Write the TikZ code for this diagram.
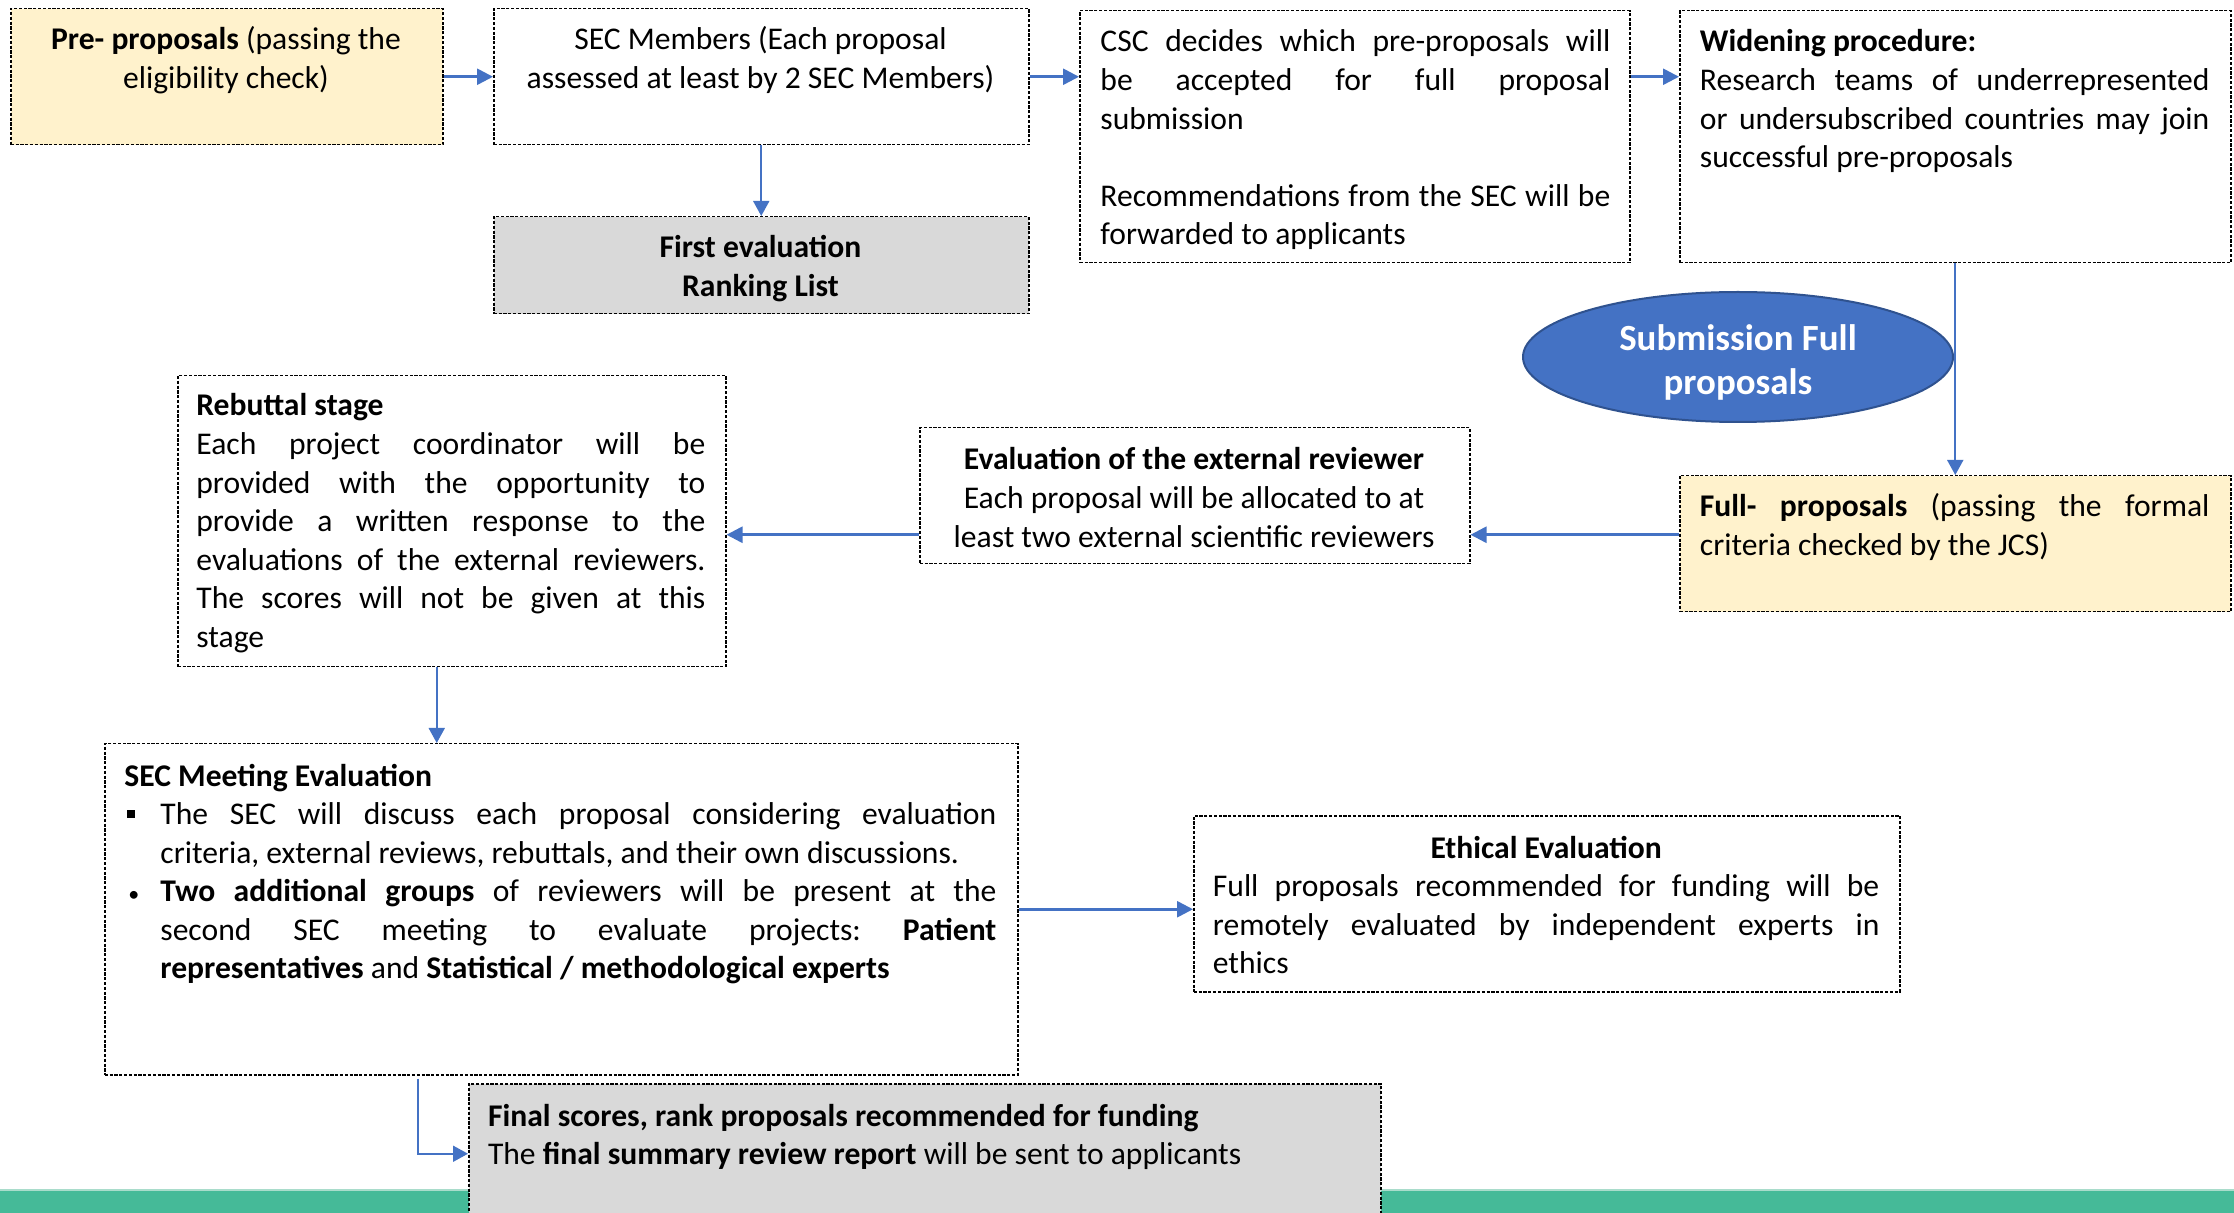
\documentclass[tikz,border=0pt]{standalone}
\usepackage{fontspec}
\setmainfont{Carlito}
\usetikzlibrary{arrows.meta,shapes.geometric,calc}
\definecolor{arrowblue}{HTML}{4472C4}
\definecolor{ellblue}{HTML}{4472C4}
\definecolor{ellborder}{HTML}{2F528F}
\definecolor{paleyellow}{HTML}{FFF2CC}
\definecolor{palegray}{HTML}{D9D9D9}
\definecolor{barteal}{HTML}{45BA98}
\definecolor{barlight}{HTML}{A9DCCB}
\newcommand\bodyfont{\fontsize{15.8}{19.3}\selectfont\frenchspacing}
\newcommand\jline[2]{\makebox[#1][s]{#2}}
\frenchspacing
\begin{document}
\begin{tikzpicture}[x=0.5pt,y=-0.5pt,
  box/.style={draw=black, line width=0.75pt, dash pattern=on 1.6pt off 0.8pt, inner sep=0pt, anchor=north west},
  txt/.style={inner sep=0pt, font=\bodyfont},
  harrow/.style={draw=arrowblue, line width=1.3pt, -{Triangle[length=8pt,width=8pt]}},
  varrow/.style={draw=arrowblue, line width=0.9pt, -{Triangle[length=7.5pt,width=8pt]}}
]
\useasboundingbox (0,0) rectangle (2234,1213);
\fill[white] (0,0) rectangle (2234,1213);

% bottom bar
\fill[barteal] (0,1189) rectangle (2234,1213);
\fill[barlight] (0,1189) rectangle (2234,1191);

% boxes
\node[box, fill=paleyellow, minimum width=216pt, minimum height=68pt] (pre) at (10,8) {};
\node[box, minimum width=267.5pt, minimum height=68pt] (sec) at (493,8) {};
\node[box, fill=palegray, minimum width=267.5pt, minimum height=48.5pt] (first) at (493,216) {};
\node[box, minimum width=275pt, minimum height=126pt] (csc) at (1079,10) {};
\node[box, minimum width=275.5pt, minimum height=126pt] (wid) at (1679,10) {};
\node[box, fill=paleyellow, minimum width=275.5pt, minimum height=68pt] (full) at (1679,475) {};
\node[box, minimum width=275pt, minimum height=68pt] (ext) at (919,427) {};
\node[box, minimum width=274pt, minimum height=145.5pt] (reb) at (177,375) {};
\node[box, minimum width=456.5pt, minimum height=165.5pt] (secm) at (104,743) {};
\node[box, minimum width=353pt, minimum height=88pt] (eth) at (1193,815) {};
\node[box, fill=palegray, minimum width=456pt, minimum height=70pt] (final) at (468,1083) {};

% ellipse
\node[ellipse, fill=ellblue, draw=ellborder, line width=1pt, minimum width=215pt, minimum height=65pt, inner sep=0pt] (subm) at (1738,357) {};
\node[inner sep=0pt, anchor=base, text=white, font=\fontsize{18.45}{22}\selectfont\bfseries] (subm-t) at (1738,351)
  {\parbox[t]{200pt}{\centering Submission Full\\proposals}};

% texts
\node[txt, anchor=base] (pre-t) at (226,50) {\parbox[t]{215pt}{\centering\textbf{Pre- proposals} (passing the\\eligibility check)}};
\node[txt, anchor=base] (sec-t) at (760.5,50) {\parbox[t]{265pt}{\centering SEC Members (Each proposal\\assessed at least by 2 SEC Members)}};
\node[txt, anchor=base] (first-t) at (760.5,258) {\parbox[t]{265pt}{\centering\bfseries First evaluation\\Ranking List}};
\node[txt, anchor=base west] (csc-t) at (1100,52) {\parbox[t]{255pt}{%
\jline{255pt}{CSC decides which pre-proposals will}\\
\jline{255pt}{be accepted for full proposal}\\
submission\\
~\\
\jline{255pt}{Recommendations from the SEC will be}\\
forwarded to applicants}};
\node[txt, anchor=base west] (wid-t) at (1699.5,52) {\parbox[t]{255pt}{%
\textbf{Widening procedure:}\\
\jline{254.75pt}{Research teams of underrepresented}\\
\jline{254.75pt}{or undersubscribed countries may join}\\
successful pre-proposals}};
\node[txt, anchor=base west] (full-t) at (1699.5,517) {\parbox[t]{255pt}{%
\jline{254.75pt}{\textbf{Full- proposals} (passing the formal}\\
criteria checked by the JCS)}};
\node[txt, anchor=base] (ext-t) at (1194,470) {\parbox[t]{272pt}{\centering
\textbf{Evaluation of the external reviewer}\\
Each proposal will be allocated to at\\
least two external scientific reviewers}};
\node[txt, anchor=base west] (reb-t) at (196,416) {\parbox[t]{255pt}{%
\textbf{Rebuttal stage}\\
\jline{254.5pt}{Each project coordinator will be}\\
\jline{254.5pt}{provided with the opportunity to}\\
\jline{254.5pt}{provide a written response to the}\\
\jline{254.5pt}{evaluations of the external reviewers.}\\
\jline{254.5pt}{The scores will not be given at this}\\
stage}};
\node[txt, anchor=base west] (secm-t) at (124,786) {\parbox[t]{440pt}{%
\textbf{SEC Meeting Evaluation}\\
\makebox[18pt][l]{\hspace{1.5pt}\raisebox{3.5pt}{\rule{4pt}{4pt}}}\jline{418pt}{The SEC will discuss each proposal considering evaluation}\\
\hspace*{18pt}criteria, external reviews, rebuttals, and their own discussions.\\
\makebox[18pt][l]{\hspace{2pt}{\fontsize{11}{11}\selectfont •}}\jline{418pt}{\textbf{Two additional groups} of reviewers will be present at the}\\
\hspace*{18pt}\jline{418pt}{second SEC meeting to evaluate projects: \textbf{Patient}}\\
\hspace*{18pt}\textbf{representatives} and \textbf{Statistical / methodological experts}}};
\node[txt, anchor=base west] (eth-t) at (1212.5,858) {\parbox[t]{333.25pt}{%
\makebox[333.25pt][c]{\textbf{Ethical Evaluation}}\\
\jline{333.25pt}{Full proposals recommended for funding will be}\\
\jline{333.25pt}{remotely evaluated by independent experts in}\\
ethics}};
\node[txt, anchor=base west] (final-t) at (487.6,1126) {\parbox[t]{440pt}{%
\textbf{Final scores, rank proposals recommended for funding}\\
The \textbf{final summary review report} will be sent to applicants}};

% connectors
\draw[harrow] (pre.east) -- (sec.west);
\draw[harrow] (sec.east) -- (sec.east -| csc.west);
\draw[harrow] (csc.east |- sec.east) -- (wid.west |- sec.east);
\draw[varrow] (sec.south) -- (first.north);
\draw[varrow] (wid.south) -- (full.north);
\coordinate (p6) at ($(full.west)+(0,-9)$);
\draw[harrow] (p6) -- (p6 -| ext.east);
\coordinate (p7) at ($(ext.west)+(0,39)$);
\draw[harrow] (p7) -- (p7 -| reb.east);
\coordinate (p8) at ($(reb.south)+(-15,0)$);
\draw[varrow] (p8) -- (p8 |- secm.north);
\draw[harrow] (secm.east) -- (secm.east -| eth.west);
\coordinate (p10) at ($(secm.south)+(-143.5,3)$);
\draw[varrow] (p10) |- (final.west);
\end{tikzpicture}
\end{document}
